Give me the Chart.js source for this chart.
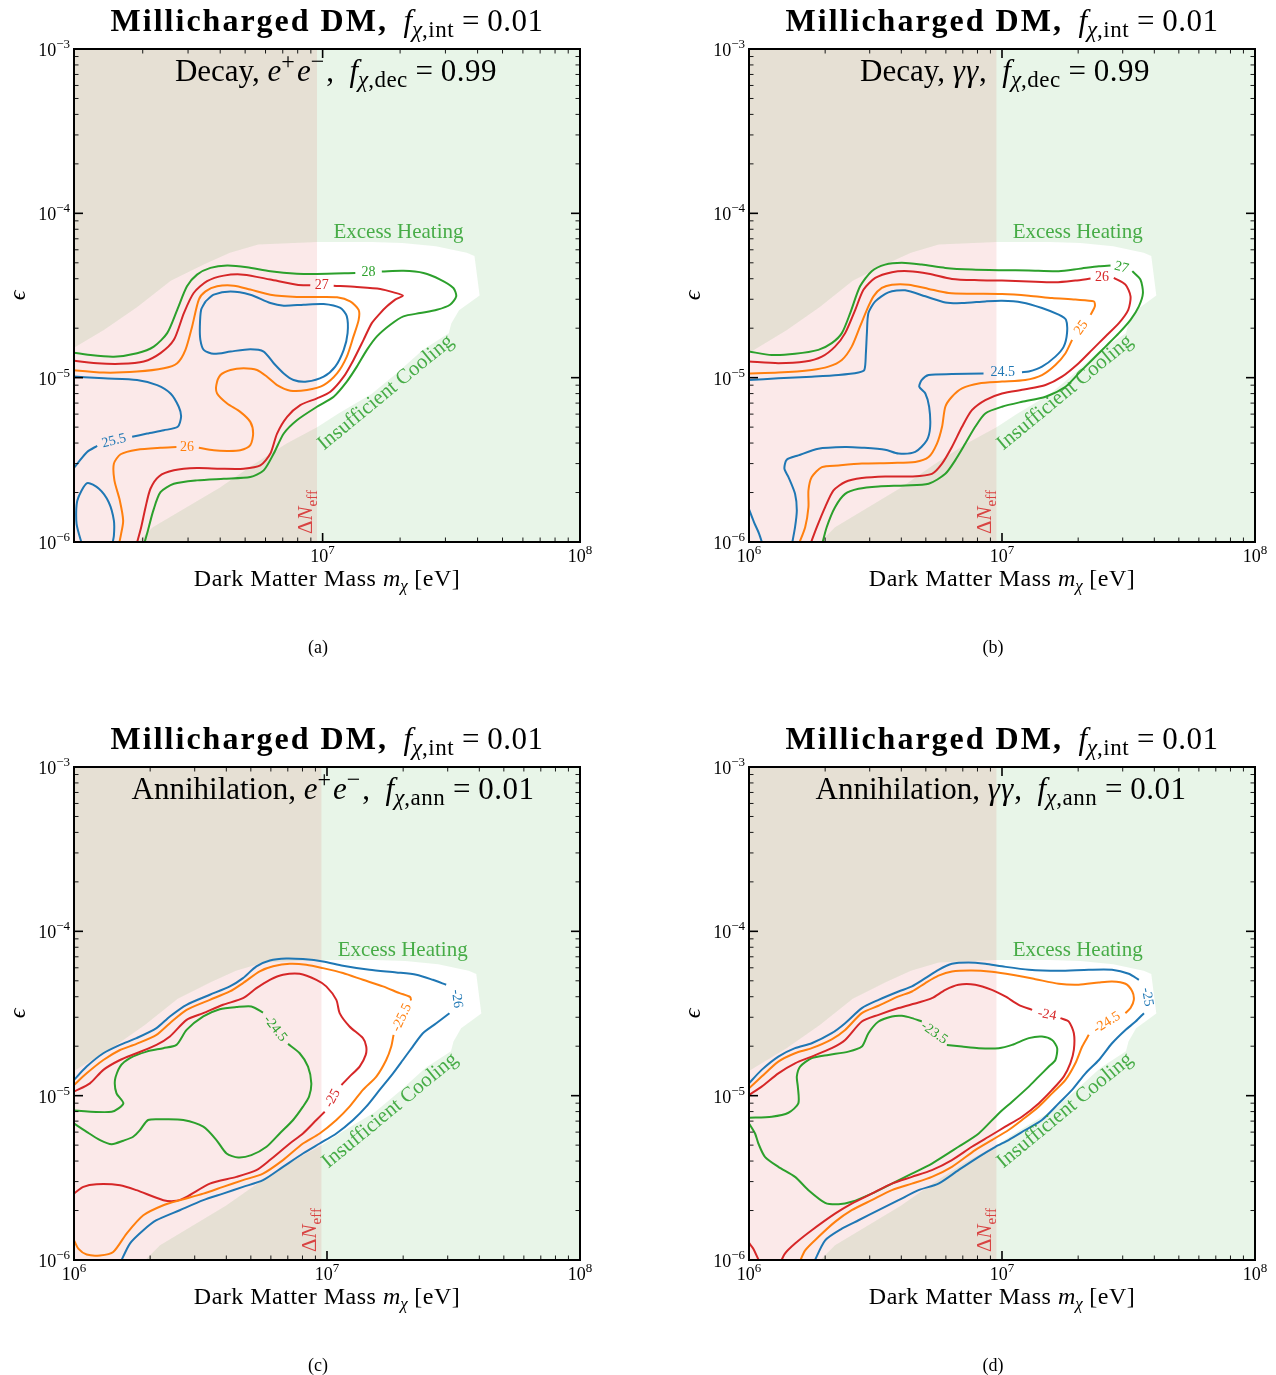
<!DOCTYPE html>
<html>
<head>
<meta charset="utf-8">
<script src="https://cdn.jsdelivr.net/npm/chart.js@4.4.1/dist/chart.umd.min.js"></script>
<style>
  html, body { margin: 0; padding: 0; background: #fff; width: 1276px; height: 1375px; overflow: hidden; }
  canvas { position: absolute; }
</style>
</head>
<body>
<canvas id="pa" width="601" height="700" style="left:0;top:0"></canvas>
<canvas id="pb" width="601" height="700" style="left:675px;top:0"></canvas>
<canvas id="pc" width="601" height="700" style="left:0;top:718px"></canvas>
<canvas id="pd" width="601" height="700" style="left:675px;top:718px"></canvas>
<script>
// all curve points are [log10 m_chi (eV), log10 epsilon]

const NEFF_LOG_MASS = 6.978;   // Delta N_eff bound, m_chi < ~9.5 MeV

// island not excluded by excess heating / insufficient cooling
const ALLOWED = [[5.95,-4.88],[6.0,-4.85],[6.15,-4.71],[6.28,-4.57],[6.41,-4.41],[6.54,-4.31],[6.64,-4.24],[6.75,-4.19],[6.98,-4.175],[7.19,-4.175],[7.31,-4.18],[7.44,-4.20],[7.56,-4.24],[7.59,-4.26],[7.61,-4.50],[7.53,-4.59],[7.50,-4.67],[7.49,-4.73],[7.39,-4.83],[7.29,-4.97],[7.19,-5.10],[7.06,-5.22],[6.98,-5.30],[6.86,-5.40],[6.73,-5.53],[6.60,-5.67],[6.47,-5.79],[6.34,-5.91],[6.25,-6.05],[5.95,-6.05]];

// (a) decay to e+e-, contours 25.5 / 26 / 27 / 28
const A_BLUE = [
  [[6.545,-4.536],[6.577,-4.495],[6.642,-4.475],[6.719,-4.495],[6.797,-4.546],[6.849,-4.562],[6.926,-4.556],[7.004,-4.552],[7.069,-4.576],[7.094,-4.627],[7.097,-4.729],[7.082,-4.831],[7.049,-4.933],[7.004,-4.994],[6.939,-5.024],[6.887,-5.014],[6.849,-4.974],[6.810,-4.912],[6.771,-4.841],[6.719,-4.827],[6.642,-4.841],[6.577,-4.855],[6.538,-4.831],[6.525,-4.770],[6.523,-4.688],[6.528,-4.587],[6.545,-4.536]],
  [[6.00,-4.99],[6.150,-5.004],[6.279,-5.014],[6.357,-5.045],[6.409,-5.096],[6.441,-5.177],[6.450,-5.238],[6.437,-5.299],[6.383,-5.320],[6.318,-5.340],[6.260,-5.360]],
  [[6.124,-5.415],[6.085,-5.452],[6.047,-5.523],[6.031,-5.554],[6.00,-5.60]],
  [[6.066,-6.02],[6.044,-5.890],[6.047,-5.747],[6.085,-5.642],[6.131,-5.676],[6.169,-5.758],[6.189,-5.870],[6.189,-5.961],[6.182,-6.02]]
];
const A_ORANGE = [
  [[6.00,-4.95],[6.150,-4.969],[6.279,-4.963],[6.383,-4.943],[6.435,-4.912],[6.467,-4.831],[6.493,-4.688],[6.519,-4.525],[6.545,-4.475],[6.590,-4.444],[6.655,-4.440],[6.719,-4.464],[6.797,-4.495],[6.900,-4.509],[6.978,-4.509],[7.056,-4.511],[7.107,-4.536],[7.140,-4.587],[7.140,-4.648],[7.120,-4.749],[7.094,-4.872],[7.056,-4.974],[7.004,-5.045],[6.939,-5.075],[6.875,-5.079],[6.823,-5.045],[6.784,-4.994],[6.745,-4.953],[6.693,-4.943],[6.642,-4.953],[6.603,-4.984],[6.587,-5.045],[6.590,-5.096],[6.629,-5.157],[6.680,-5.208],[6.719,-5.269],[6.730,-5.340],[6.719,-5.411],[6.680,-5.442],[6.629,-5.446],[6.577,-5.442],[6.519,-5.426]],
  [[6.432,-5.422],[6.370,-5.426],[6.279,-5.438],[6.215,-5.466],[6.189,-5.523],[6.191,-5.625],[6.212,-5.747],[6.225,-5.870],[6.217,-5.951],[6.208,-6.02]]
];
const A_RED = [
  [[6.00,-4.89],[6.124,-4.912],[6.215,-4.916],[6.305,-4.902],[6.370,-4.851],[6.422,-4.770],[6.461,-4.607],[6.499,-4.485],[6.551,-4.413],[6.616,-4.379],[6.693,-4.373],[6.797,-4.403],[6.900,-4.434],[6.952,-4.438]],
  [[7.043,-4.440],[7.133,-4.448],[7.224,-4.460],[7.276,-4.481],[7.312,-4.501],[7.282,-4.525],[7.250,-4.566],[7.224,-4.607],[7.191,-4.668],[7.159,-4.770],[7.120,-4.892],[7.082,-4.994],[7.030,-5.086],[6.978,-5.126],[6.913,-5.167],[6.862,-5.238],[6.823,-5.340],[6.797,-5.462],[6.758,-5.534],[6.693,-5.554],[6.603,-5.554],[6.512,-5.550],[6.422,-5.564],[6.364,-5.601],[6.331,-5.676],[6.312,-5.788],[6.295,-5.910],[6.276,-6.02]]
];
const A_GREEN = [
  [[6.00,-4.84],[6.098,-4.862],[6.189,-4.872],[6.279,-4.851],[6.344,-4.811],[6.396,-4.729],[6.435,-4.587],[6.473,-4.444],[6.512,-4.373],[6.564,-4.332],[6.629,-4.318],[6.706,-4.328],[6.797,-4.352],[6.900,-4.367],[6.978,-4.369],[7.127,-4.363]],
  [[7.230,-4.354],[7.314,-4.350],[7.392,-4.363],[7.457,-4.403],[7.508,-4.454],[7.519,-4.505],[7.495,-4.556],[7.444,-4.587],[7.379,-4.607],[7.314,-4.627],[7.263,-4.678],[7.211,-4.749],[7.172,-4.831],[7.133,-4.933],[7.094,-5.024],[7.043,-5.116],[6.978,-5.177],[6.900,-5.259],[6.849,-5.340],[6.810,-5.462],[6.771,-5.564],[6.719,-5.605],[6.616,-5.615],[6.512,-5.625],[6.422,-5.646],[6.370,-5.697],[6.342,-5.809],[6.321,-5.931],[6.305,-6.02]]
];
const A_LABELS = [['25.5',6.189,-5.385,-14,'C0'],['26',6.473,-5.422,0,'C1'],['27',6.997,-4.437,0,'C3'],['28',7.178,-4.358,0,'C2']];

// (b) decay to two photons, contours 24.5 / 25 / 26 / 27
const B_BLUE = [
  [[6.0,-5.014],[6.116,-5.004],[6.248,-4.994],[6.354,-4.984],[6.433,-4.969],[6.456,-4.953],[6.462,-4.851],[6.466,-4.729],[6.472,-4.607],[6.499,-4.536],[6.551,-4.481],[6.617,-4.468],[6.697,-4.505],[6.776,-4.542],[6.842,-4.546],[6.934,-4.536],[7.000,-4.532],[7.079,-4.542],[7.158,-4.576],[7.224,-4.617],[7.253,-4.648],[7.257,-4.729],[7.244,-4.811],[7.211,-4.872],[7.158,-4.933],[7.106,-4.963],[7.079,-4.967]],
  [[6.927,-4.974],[6.802,-4.978],[6.710,-4.984],[6.683,-5.014],[6.673,-5.055],[6.697,-5.096],[6.712,-5.177],[6.716,-5.299],[6.703,-5.381],[6.657,-5.452],[6.591,-5.462],[6.538,-5.438],[6.446,-5.426],[6.380,-5.422],[6.274,-5.432],[6.195,-5.473],[6.149,-5.499],[6.140,-5.554],[6.156,-5.605],[6.182,-5.707],[6.189,-5.809],[6.182,-5.910],[6.169,-6.02]],
  [[6.0,-5.80],[6.02,-5.88],[6.04,-5.95],[6.055,-6.02]]
];
const B_ORANGE = [
  [[6.0,-4.974],[6.116,-4.969],[6.248,-4.953],[6.314,-4.933],[6.367,-4.892],[6.406,-4.811],[6.439,-4.688],[6.466,-4.587],[6.492,-4.505],[6.525,-4.454],[6.565,-4.434],[6.631,-4.434],[6.710,-4.460],[6.789,-4.485],[6.881,-4.489],[7.000,-4.491],[7.106,-4.501],[7.198,-4.515],[7.290,-4.525],[7.363,-4.536],[7.367,-4.566],[7.350,-4.617]],
  [[7.277,-4.770],[7.251,-4.851],[7.211,-4.923],[7.158,-4.984],[7.092,-5.014],[7.000,-5.024],[6.908,-5.035],[6.842,-5.065],[6.802,-5.116],[6.776,-5.177],[6.763,-5.299],[6.743,-5.401],[6.710,-5.483],[6.657,-5.513],[6.565,-5.519],[6.446,-5.523],[6.354,-5.534],[6.288,-5.544],[6.248,-5.605],[6.235,-5.686],[6.235,-5.788],[6.222,-5.910],[6.195,-6.02]]
];
const B_RED = [
  [[6.0,-4.902],[6.116,-4.912],[6.222,-4.902],[6.288,-4.872],[6.340,-4.811],[6.380,-4.729],[6.420,-4.587],[6.453,-4.464],[6.499,-4.393],[6.565,-4.358],[6.631,-4.352],[6.710,-4.367],[6.802,-4.399],[6.908,-4.407],[7.000,-4.409],[7.106,-4.415],[7.211,-4.420],[7.290,-4.409],[7.350,-4.397]],
  [[7.442,-4.393],[7.488,-4.434],[7.508,-4.505],[7.499,-4.587],[7.462,-4.668],[7.409,-4.749],[7.356,-4.831],[7.303,-4.912],[7.237,-4.994],[7.172,-5.045],[7.092,-5.071],[7.000,-5.096],[6.934,-5.136],[6.881,-5.198],[6.842,-5.299],[6.802,-5.422],[6.763,-5.523],[6.723,-5.585],[6.644,-5.601],[6.538,-5.601],[6.446,-5.611],[6.380,-5.635],[6.334,-5.686],[6.301,-5.788],[6.268,-5.910],[6.241,-6.02]]
];
const B_GREEN = [
  [[6.0,-4.841],[6.090,-4.862],[6.182,-4.855],[6.274,-4.831],[6.327,-4.790],[6.367,-4.729],[6.400,-4.607],[6.439,-4.444],[6.485,-4.352],[6.538,-4.312],[6.604,-4.301],[6.683,-4.312],[6.776,-4.332],[6.881,-4.342],[7.000,-4.346],[7.106,-4.348],[7.224,-4.352],[7.303,-4.338],[7.383,-4.322],[7.429,-4.318]],
  [[7.515,-4.352],[7.547,-4.403],[7.557,-4.485],[7.541,-4.566],[7.508,-4.648],[7.462,-4.729],[7.409,-4.811],[7.356,-4.892],[7.303,-4.974],[7.251,-5.055],[7.172,-5.116],[7.079,-5.147],[7.000,-5.177],[6.934,-5.218],[6.894,-5.299],[6.855,-5.401],[6.815,-5.503],[6.776,-5.585],[6.710,-5.646],[6.617,-5.656],[6.512,-5.662],[6.433,-5.676],[6.380,-5.707],[6.340,-5.788],[6.307,-5.910],[6.288,-6.02]]
];
const B_LABELS = [['24.5',7.003,-4.970,0,'C0'],['25',7.313,-4.695,-55,'C1'],['26',7.395,-4.392,0,'C3'],['27',7.472,-4.330,15,'C2']];

// (c) annihilation to e+e-, contours -26 / -25.5 / -25 / -24.5
const C_BLUE = [
  [[6.0,-4.904],[6.050,-4.823],[6.116,-4.742],[6.182,-4.691],[6.247,-4.650],[6.326,-4.589],[6.379,-4.518],[6.445,-4.447],[6.537,-4.386],[6.616,-4.335],[6.668,-4.285],[6.721,-4.213],[6.774,-4.177],[6.839,-4.165],[6.905,-4.169],[6.984,-4.183],[7.063,-4.209],[7.168,-4.234],[7.274,-4.250],[7.353,-4.264],[7.418,-4.295],[7.471,-4.325]],
  [[7.484,-4.498],[7.432,-4.559],[7.379,-4.620],[7.339,-4.701],[7.300,-4.783],[7.261,-4.864],[7.208,-4.965],[7.155,-5.067],[7.103,-5.148],[7.037,-5.230],[6.971,-5.291],[6.905,-5.352],[6.826,-5.433],[6.747,-5.514],[6.668,-5.555],[6.589,-5.596],[6.511,-5.636],[6.418,-5.697],[6.326,-5.758],[6.274,-5.819],[6.221,-5.900],[6.182,-6.02]]
];
const C_ORANGE = [
  [[6.0,-4.935],[6.050,-4.864],[6.116,-4.783],[6.182,-4.722],[6.247,-4.685],[6.326,-4.630],[6.379,-4.559],[6.445,-4.478],[6.537,-4.417],[6.616,-4.366],[6.668,-4.315],[6.734,-4.244],[6.787,-4.213],[6.853,-4.197],[6.918,-4.203],[6.984,-4.224],[7.063,-4.254],[7.142,-4.295],[7.221,-4.335],[7.287,-4.376],[7.329,-4.400],[7.332,-4.421]],
  [[7.263,-4.630],[7.254,-4.701],[7.234,-4.783],[7.195,-4.884],[7.142,-4.965],[7.089,-5.067],[7.037,-5.148],[6.971,-5.230],[6.905,-5.291],[6.826,-5.392],[6.747,-5.474],[6.668,-5.514],[6.589,-5.555],[6.511,-5.596],[6.418,-5.636],[6.353,-5.667],[6.274,-5.728],[6.208,-5.839],[6.155,-5.951],[6.103,-5.972],[6.050,-5.967],[6.017,-5.931],[6.0,-5.880]]
];
const C_RED = [
  [[6.0,-4.976],[6.063,-4.925],[6.116,-4.843],[6.182,-4.783],[6.247,-4.742],[6.326,-4.691],[6.379,-4.640],[6.445,-4.539],[6.511,-4.498],[6.589,-4.447],[6.668,-4.407],[6.721,-4.346],[6.774,-4.295],[6.826,-4.264],[6.892,-4.258],[6.958,-4.295],[6.997,-4.335],[7.037,-4.417],[7.050,-4.498],[7.089,-4.579],[7.142,-4.650],[7.155,-4.701],[7.153,-4.752],[7.129,-4.823],[7.089,-4.884],[7.057,-4.935]],
  [[6.991,-5.098],[6.958,-5.148],[6.905,-5.230],[6.853,-5.291],[6.774,-5.392],[6.721,-5.453],[6.642,-5.494],[6.537,-5.535],[6.445,-5.616],[6.405,-5.640],[6.353,-5.636],[6.247,-5.575],[6.182,-5.545],[6.089,-5.539],[6.037,-5.555],[6.0,-5.596]]
];
const C_GREEN = [
  [[6.0,-5.091],[6.149,-5.098],[6.195,-5.047],[6.168,-4.986],[6.162,-4.904],[6.182,-4.823],[6.221,-4.772],[6.287,-4.732],[6.353,-4.711],[6.405,-4.691],[6.445,-4.600],[6.511,-4.518],[6.576,-4.474],[6.642,-4.461],[6.701,-4.457],[6.747,-4.494]],
  [[6.846,-4.685],[6.892,-4.742],[6.925,-4.823],[6.938,-4.925],[6.929,-5.006],[6.905,-5.067],[6.866,-5.148],[6.813,-5.230],[6.761,-5.311],[6.701,-5.362],[6.649,-5.376],[6.603,-5.352],[6.563,-5.270],[6.511,-5.189],[6.432,-5.148],[6.353,-5.144],[6.293,-5.148],[6.261,-5.209],[6.234,-5.250],[6.195,-5.274],[6.149,-5.295],[6.103,-5.270],[6.050,-5.220],[6.0,-5.169]]
];
const C_LABELS = [['-26',7.513,-4.410,83,'C0'],['-25.5',7.296,-4.525,-65,'C1'],['-25',7.022,-5.016,-62,'C3'],['-24.5',6.795,-4.592,52,'C2']];

// (d) annihilation to two photons, contours -25 / -24.5 / -24 / -23.5
const D_BLUE = [
  [[6.0,-4.925],[6.050,-4.843],[6.116,-4.762],[6.182,-4.711],[6.248,-4.681],[6.327,-4.620],[6.380,-4.559],[6.446,-4.467],[6.512,-4.417],[6.591,-4.366],[6.644,-4.335],[6.697,-4.285],[6.749,-4.234],[6.802,-4.197],[6.868,-4.189],[6.934,-4.197],[7.0,-4.213],[7.106,-4.234],[7.224,-4.240],[7.343,-4.234],[7.435,-4.234],[7.501,-4.258],[7.541,-4.295]],
  [[7.561,-4.498],[7.528,-4.549],[7.488,-4.600],[7.435,-4.681],[7.383,-4.783],[7.330,-4.864],[7.277,-4.965],[7.224,-5.047],[7.158,-5.148],[7.092,-5.209],[7.026,-5.270],[6.974,-5.311],[6.908,-5.372],[6.828,-5.453],[6.749,-5.535],[6.670,-5.575],[6.591,-5.636],[6.512,-5.697],[6.433,-5.758],[6.367,-5.809],[6.301,-5.880],[6.255,-6.02]]
];
const D_ORANGE = [
  [[6.0,-4.955],[6.050,-4.884],[6.116,-4.793],[6.182,-4.742],[6.248,-4.711],[6.327,-4.657],[6.380,-4.600],[6.446,-4.498],[6.512,-4.453],[6.591,-4.396],[6.644,-4.366],[6.697,-4.315],[6.749,-4.270],[6.802,-4.244],[6.881,-4.238],[6.960,-4.246],[7.040,-4.264],[7.132,-4.291],[7.224,-4.319],[7.303,-4.325],[7.383,-4.311],[7.435,-4.305],[7.488,-4.319],[7.515,-4.366],[7.521,-4.417],[7.508,-4.467],[7.488,-4.498]],
  [[7.343,-4.630],[7.317,-4.701],[7.290,-4.803],[7.251,-4.904],[7.198,-4.986],[7.145,-5.067],[7.079,-5.148],[7.026,-5.209],[6.960,-5.270],[6.894,-5.331],[6.802,-5.433],[6.723,-5.494],[6.644,-5.535],[6.565,-5.575],[6.485,-5.636],[6.406,-5.697],[6.340,-5.768],[6.274,-5.860],[6.222,-5.941],[6.198,-6.02]]
];
const D_RED = [
  [[6.0,-4.996],[6.050,-4.945],[6.116,-4.864],[6.182,-4.803],[6.248,-4.762],[6.327,-4.711],[6.380,-4.661],[6.446,-4.549],[6.512,-4.508],[6.591,-4.467],[6.670,-4.433],[6.723,-4.407],[6.776,-4.356],[6.828,-4.325],[6.894,-4.325],[6.960,-4.356],[7.013,-4.396],[7.066,-4.447],[7.119,-4.478]],
  [[7.231,-4.528],[7.264,-4.549],[7.284,-4.620],[7.284,-4.722],[7.270,-4.803],[7.244,-4.884],[7.198,-4.965],[7.145,-5.047],[7.079,-5.128],[7.013,-5.189],[6.947,-5.250],[6.881,-5.311],[6.802,-5.392],[6.723,-5.453],[6.644,-5.494],[6.565,-5.535],[6.485,-5.596],[6.406,-5.657],[6.340,-5.718],[6.248,-5.819],[6.182,-5.900],[6.142,-5.961],[6.123,-6.02]],
  [[6.0,-5.896],[6.017,-5.931],[6.044,-6.02]]
];
const D_GREEN = [
  [[6.0,-5.134],[6.090,-5.128],[6.156,-5.104],[6.195,-5.047],[6.193,-4.945],[6.189,-4.884],[6.202,-4.823],[6.248,-4.772],[6.314,-4.752],[6.393,-4.732],[6.446,-4.701],[6.472,-4.620],[6.512,-4.549],[6.565,-4.518],[6.604,-4.514],[6.644,-4.528],[6.683,-4.549]],
  [[6.782,-4.691],[6.842,-4.701],[6.908,-4.711],[6.987,-4.711],[7.040,-4.691],[7.106,-4.650],[7.158,-4.640],[7.198,-4.661],[7.218,-4.711],[7.211,-4.783],[7.185,-4.823],[7.145,-4.884],[7.106,-4.945],[7.040,-5.037],[6.987,-5.108],[6.908,-5.230],[6.828,-5.311],[6.723,-5.413],[6.644,-5.474],[6.565,-5.535],[6.485,-5.596],[6.406,-5.646],[6.354,-5.661],[6.301,-5.652],[6.235,-5.575],[6.182,-5.494],[6.116,-5.433],[6.063,-5.372],[6.037,-5.291],[6.024,-5.230],[6.0,-5.169]]
];
const D_LABELS = [['-25',7.574,-4.400,80,'C0'],['-24.5',7.415,-4.555,-32,'C1'],['-24',7.178,-4.508,10,'C3'],['-23.5',6.732,-4.618,35,'C2']];

const COLORS = { C0: '#1f77b4', C1: '#ff7f0e', C2: '#2ca02c', C3: '#d62728' };
const SERIF = '"Liberation Serif", "DejaVu Serif", serif';

// text run: text, size, style, baseline shift, letter spacing
const seg = (t, s, f = '', dy = 0, ls = 0) => ({ t, s, f, dy, ls });
const fText = (ch, val) => [seg('f', 31, 'italic'), seg('χ', 23, 'italic', 6), seg(ch, 23, '', 6, 0.5), seg(' = ', 31), seg(val, 31, '', 0, 0.5)];
const EE = [seg('e', 31, 'italic'), seg('+', 24, '', -12, 2), seg('e', 31, 'italic'), seg('−', 24, '', -12, 2)];
const GG = [seg('γγ', 31, 'italic', 0, 1)];
const SEP = seg(',  ', 31);

const TITLE = [seg('Millicharged DM,', 32, 'bold', 0, 2), seg('  ', 31), seg('f', 31, 'italic'), seg('χ', 23, 'italic', 6), seg(',int', 23, '', 6, 0.5), seg(' = ', 31), seg('0.01', 31, '', 0, 0.5)];
const XTITLE = [seg('Dark Matter Mass ', 24, '', 0, 0.5), seg('m', 24, 'italic'), seg('χ', 17, 'italic', 5), seg(' [eV]', 24, '', 0, 0.5)];

const PANELS = [
  { id: 'pa', xMin: 10 ** 6.034, caption: '(a)', subX: 336,
    sub: [seg('Decay, ', 31), ...EE, SEP, ...fText(',dec', '0.99')],
    lines: [[A_BLUE, 'C0'], [A_ORANGE, 'C1'], [A_RED, 'C3'], [A_GREEN, 'C2']], labels: A_LABELS },
  { id: 'pb', xMin: 1e6, caption: '(b)', subX: 330,
    sub: [seg('Decay, ', 31), ...GG, SEP, ...fText(',dec', '0.99')],
    lines: [[B_BLUE, 'C0'], [B_ORANGE, 'C1'], [B_RED, 'C3'], [B_GREEN, 'C2']], labels: B_LABELS },
  { id: 'pc', xMin: 1e6, caption: '(c)', subX: 333,
    sub: [seg('Annihilation, ', 31), ...EE, SEP, ...fText(',ann', '0.01')],
    lines: [[C_BLUE, 'C0'], [C_ORANGE, 'C1'], [C_RED, 'C3'], [C_GREEN, 'C2']], labels: C_LABELS },
  { id: 'pd', xMin: 1e6, caption: '(d)', subX: 326,
    sub: [seg('Annihilation, ', 31), ...GG, SEP, ...fText(',ann', '0.01')],
    lines: [[D_BLUE, 'C0'], [D_ORANGE, 'C1'], [D_RED, 'C3'], [D_GREEN, 'C2']], labels: D_LABELS }
];

function setFont(ctx, g) {
  ctx.font = `${g.f} ${g.s}px ${SERIF}`.trim();
  ctx.letterSpacing = `${g.ls}px`;
}
function richWidth(ctx, segs) {
  let w = 0;
  for (const g of segs) { setFont(ctx, g); w += ctx.measureText(g.t).width; }
  return w;
}
function drawRich(ctx, segs, x, y, align) {
  const w = richWidth(ctx, segs);
  let cx = align === 'center' ? x - w / 2 : align === 'right' ? x - w : x;
  ctx.textAlign = 'left';
  ctx.textBaseline = 'alphabetic';
  for (const g of segs) {
    setFont(ctx, g);
    ctx.fillText(g.t, cx, y + g.dy);
    cx += ctx.measureText(g.t).width;
  }
  ctx.letterSpacing = '0px';
}
const px = (scale, lv) => scale.getPixelForValue(10 ** lv);

// green = heating/cooling excluded (outside the island), red tint = Delta N_eff
const regionPlugin = {
  id: 'regions',
  beforeDatasetsDraw(chart) {
    const { ctx, chartArea: a, scales: { x, y } } = chart;
    ctx.save();
    ctx.beginPath();
    ctx.rect(a.left, a.top, a.width, a.height);
    ctx.clip();
    ctx.beginPath();
    ctx.rect(a.left, a.top, a.width, a.height);
    ALLOWED.forEach(([lx, ly], i) => {
      i ? ctx.lineTo(px(x, lx), px(y, ly)) : ctx.moveTo(px(x, lx), px(y, ly));
    });
    ctx.closePath();
    ctx.fillStyle = 'rgba(44,160,44,0.11)';
    ctx.fill('evenodd');
    const xb = px(x, NEFF_LOG_MASS);
    ctx.fillStyle = 'rgba(214,39,40,0.1)';
    ctx.fillRect(a.left, a.top, xb - a.left, a.height);
    ctx.restore();
  }
};

const overlayPlugin = {
  id: 'overlay',
  afterDatasetsDraw(chart, args, opts) {
    const { ctx, chartArea: a, scales: { x, y } } = chart;
    ctx.save();
    ctx.beginPath();
    ctx.rect(a.left, a.top, a.width, a.height);
    ctx.clip();

    // contour level labels
    for (const [txt, lx, ly, rot, c] of opts.labels) {
      ctx.save();
      ctx.translate(px(x, lx), px(y, ly));
      ctx.rotate(rot * Math.PI / 180);
      ctx.fillStyle = COLORS[c];
      ctx.font = `14px ${SERIF}`;
      ctx.textAlign = 'center';
      ctx.textBaseline = 'middle';
      ctx.fillText(txt, 0, 0);
      ctx.restore();
    }

    // region annotations
    ctx.fillStyle = 'rgba(44,160,44,0.85)';
    drawRich(ctx, [seg('Excess Heating', 21)], px(x, 7.042), px(y, -4.152), 'left');
    ctx.save();
    ctx.translate(px(x, 7.005), px(y, -5.445));
    ctx.rotate(-39.5 * Math.PI / 180);
    drawRich(ctx, [seg('Insufficient Cooling', 21)], 0, 0, 'left');
    ctx.restore();
    ctx.save();
    ctx.translate(px(x, NEFF_LOG_MASS) - 5, a.bottom - 8);
    ctx.rotate(-Math.PI / 2);
    ctx.fillStyle = 'rgba(214,39,40,0.85)';
    drawRich(ctx, [seg('Δ', 21), seg('N', 21, 'italic'), seg('eff', 15, '', 5)], 0, 0, 'left');
    ctx.restore();
    ctx.restore();

    // inward ticks and frame
    ctx.save();
    ctx.strokeStyle = '#000';
    const tick = (x1, y1, x2, y2, w) => {
      ctx.lineWidth = w; ctx.beginPath(); ctx.moveTo(x1, y1); ctx.lineTo(x2, y2); ctx.stroke();
    };
    for (let e = 6; e <= 8; e++) for (let k = 1; k <= 9; k++) {
      const v = k * 10 ** e;
      if (v < x.min || v > x.max * 1.0001) continue;
      const p = x.getPixelForValue(v), len = k === 1 ? 9 : 4.5, w = k === 1 ? 1.6 : 0.9;
      tick(p, a.bottom, p, a.bottom - len, w);
      tick(p, a.top, p, a.top + len, w);
    }
    for (let e = -6; e <= -3; e++) for (let k = 1; k <= 9; k++) {
      const v = k * 10 ** e;
      if (v < y.min * 0.9999 || v > y.max * 1.0001) continue;
      const p = y.getPixelForValue(v), len = k === 1 ? 9 : 4.5, w = k === 1 ? 1.6 : 0.9;
      tick(a.left, p, a.left + len, p, w);
      tick(a.right, p, a.right - len, p, w);
    }
    ctx.lineWidth = 2;
    ctx.strokeRect(a.left, a.top, a.width, a.height);
    ctx.restore();
  },
  afterDraw(chart, args, opts) {
    const { ctx, chartArea: a, scales: { x, y } } = chart;
    const mid = (a.left + a.right) / 2;
    ctx.save();
    ctx.fillStyle = '#000';
    drawRich(ctx, TITLE, mid, 31, 'center');
    drawRich(ctx, opts.sub, opts.subX, 81, 'center');
    drawRich(ctx, XTITLE, mid, 586, 'center');
    drawRich(ctx, [seg(opts.caption, 18)], 318, 653, 'center');

    // decade tick labels
    for (let e = 6; e <= 8; e++) {
      if (10 ** e < x.min) continue;
      drawRich(ctx, [seg('10', 18), seg(String(e), 13, '', -8)], x.getPixelForValue(10 ** e), a.bottom + 20, 'center');
    }
    for (let e = -6; e <= -3; e++) {
      drawRich(ctx, [seg('10', 18), seg('−' + (-e), 13, '', -8)], a.left - 4, y.getPixelForValue(10 ** e) + 7, 'right');
    }
    ctx.save();
    ctx.translate(25, (a.top + a.bottom) / 2);
    ctx.rotate(-Math.PI / 2);
    drawRich(ctx, [seg('ϵ', 24, 'italic')], 0, 0, 'center');
    ctx.restore();
    ctx.restore();
  }
};

for (const p of PANELS) {
  const datasets = [];
  for (const [pieces, c] of p.lines) {
    for (const piece of pieces) {
      datasets.push({
        data: piece.map(([lx, ly]) => ({ x: 10 ** lx, y: 10 ** ly })),
        showLine: true,
        borderColor: COLORS[c],
        borderWidth: 2,
        pointRadius: 0,
        tension: 0.25,
        fill: false,
        clip: 0
      });
    }
  }
  new Chart(document.getElementById(p.id), {
    type: 'scatter',
    data: { datasets },
    options: {
      responsive: false,
      animation: false,
      devicePixelRatio: 1,
      layout: { padding: { left: 74, top: 49, right: 21, bottom: 158 } },
      scales: {
        x: { type: 'logarithmic', min: p.xMin, max: 1e8, display: false },
        y: { type: 'logarithmic', min: 1e-6, max: 1e-3, display: false }
      },
      plugins: {
        legend: { display: false },
        tooltip: { enabled: false },
        overlay: { labels: p.labels, sub: p.sub, subX: p.subX, caption: p.caption }
      }
    },
    plugins: [regionPlugin, overlayPlugin]
  });
}
</script>
</body>
</html>
